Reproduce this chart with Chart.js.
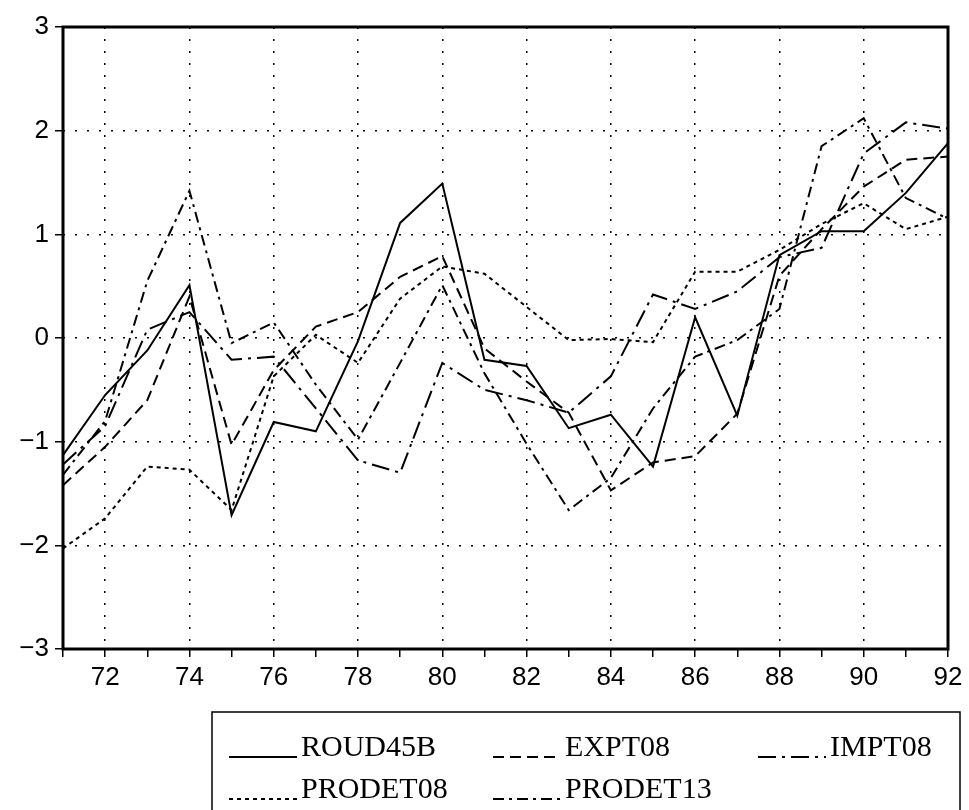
<!DOCTYPE html>
<html>
<head>
<meta charset="utf-8">
<script src="https://cdn.jsdelivr.net/npm/chart.js@4/dist/chart.umd.min.js"></script>
<style>
  html, body { margin: 0; padding: 0; background: #fff; }
  #wrap { width: 969px; height: 810px; position: relative; }
</style>
</head>
<body>
<div id="wrap"><canvas id="chart"></canvas></div>
<script>
'use strict';

// Years 1971..1992, shown as two digits
const years = ['71', '72', '73', '74', '75', '76', '77', '78', '79', '80', '81',
               '82', '83', '84', '85', '86', '87', '88', '89', '90', '91', '92'];

// Series values
const roud45b  = [-1.13, -0.55, -0.12, 0.51, -1.71, -0.81, -0.90, -0.03, 1.11, 1.49, -0.21,
                  -0.27, -0.87, -0.74, -1.24, 0.20, -0.75, 0.80, 1.03, 1.03, 1.40, 1.88];
const expt08   = [-1.42, -1.05, -0.60, 0.40, -1.03, -0.31, 0.11, 0.25, 0.59, 0.79, -0.10,
                  -0.42, -0.72, -1.47, -1.20, -1.14, -0.73, 0.60, 1.05, 1.46, 1.72, 1.75];
const impt08   = [-1.22, -0.85, 0.08, 0.25, -0.21, -0.18, -0.68, -1.18, -1.30, -0.24, -0.50,
                  -0.60, -0.72, -0.37, 0.42, 0.28, 0.45, 0.78, 0.87, 1.78, 2.08, 2.02];
const prodet08 = [-2.03, -1.74, -1.24, -1.27, -1.66, -0.37, 0.03, -0.24, 0.38, 0.69, 0.62,
                  0.30, -0.02, -0.01, -0.04, 0.64, 0.64, 0.85, 1.10, 1.30, 1.05, 1.17];
const prodet13 = [-1.32, -0.80, 0.55, 1.42, -0.05, 0.15, -0.45, -0.98, -0.24, 0.51, -0.34,
                  -1.02, -1.66, -1.35, -0.68, -0.18, -0.02, 0.28, 1.85, 2.12, 1.35, 1.15];

const yTicks = [-3, -2, -1, 0, 1, 2, 3];

function line(label, data, dash) {
    return {
        label: label,
        data: data,
        borderColor: '#000',
        borderWidth: 2,
        borderDash: dash,
        pointRadius: 0,
        fill: false,
        tension: 0
    };
}

// Box around the plot area
const framePlugin = {
    id: 'frame',
    afterDatasetsDraw(chart) {
        const a = chart.chartArea;
        const ctx = chart.ctx;
        ctx.save();
        ctx.strokeStyle = '#000';
        ctx.lineWidth = 3;
        ctx.strokeRect(a.left, a.top, a.right - a.left, a.bottom - a.top);
        ctx.restore();
    }
};

// Boxed legend, three columns, under the axis
const legendPlugin = {
    id: 'boxLegend',
    afterDraw(chart) {
        const ctx = chart.ctx;
        const cols = [229, 493, 758];
        const rows = [748, 790];
        ctx.save();
        ctx.strokeStyle = '#000';
        ctx.lineWidth = 1.5;
        ctx.strokeRect(212, 712, 748, 110);
        ctx.font = '30px "Liberation Serif"';
        ctx.fillStyle = '#000';
        ctx.textBaseline = 'middle';
        chart.data.datasets.forEach((ds, i) => {
            const x = cols[i % 3];
            const y = rows[Math.floor(i / 3)];
            ctx.beginPath();
            ctx.lineWidth = 2;
            ctx.setLineDash(ds.borderDash);
            ctx.moveTo(x, y + 9);
            ctx.lineTo(x + 68, y + 9);
            ctx.stroke();
            ctx.setLineDash([]);
            ctx.fillText(ds.label, x + 72, y);
        });
        ctx.restore();
    }
};

const ctx = document.getElementById('chart').getContext('2d');
const chart = new Chart(ctx, {
    type: 'line',
    data: {
        labels: years,
        datasets: [
            line('ROUD45B', roud45b, []),
            line('EXPT08', expt08, [11, 6]),
            line('IMPT08', impt08, [18, 6, 3, 6]),
            line('PRODET08', prodet08, [4, 4]),
            line('PRODET13', prodet13, [11, 5, 3, 5])
        ]
    },
    options: {
        responsive: true,
        maintainAspectRatio: false,
        animation: false,
        layout: { padding: { left: 0, right: 21, top: 27, bottom: 111 } },
        plugins: {
            legend: { display: false },
            tooltip: { enabled: false }
        },
        scales: {
            x: {
                type: 'category',
                offset: false,
                afterFit(scale) { scale.height = 50; },
                border: { display: false, dash: [2, 10] },
                grid: {
                    color(c) {
                        const i = c.index;
                        if (c.type !== 'tick' || i === 0 || i === years.length - 1) return 'rgba(0,0,0,0)';
                        return i % 2 === 1 ? '#000' : 'rgba(0,0,0,0)';
                    },
                    lineWidth: 1.5,
                    tickColor: '#000',
                    tickLength: 8,
                    tickWidth: 1.5
                },
                ticks: {
                    autoSkip: false,
                    maxRotation: 0,
                    padding: 5,
                    color: '#000',
                    font: { family: '"Liberation Sans"', size: 26 },
                    callback(v, i) { return i % 2 === 1 ? years[i] : ''; }
                }
            },
            y: {
                min: -3,
                max: 3,
                afterFit(scale) { scale.width = 63; },
                afterBuildTicks(scale) { scale.ticks = yTicks.map(v => ({ value: v })); },
                border: { display: false, dash: [2, 10] },
                grid: {
                    color(c) {
                        if (c.type !== 'tick') return 'rgba(0,0,0,0)';
                        return Math.abs(c.tick.value) === 3 ? 'rgba(0,0,0,0)' : '#000';
                    },
                    lineWidth: 1.5,
                    tickColor: '#000',
                    tickLength: 8,
                    tickWidth: 1.5
                },
                ticks: {
                    padding: 6,
                    color: '#000',
                    font: { family: '"Liberation Sans"', size: 26 },
                    callback(v) { return v < 0 ? '\u2212' + Math.abs(v) : String(v); }
                }
            }
        }
    },
    plugins: [framePlugin, legendPlugin]
});
</script>
</body>
</html>
